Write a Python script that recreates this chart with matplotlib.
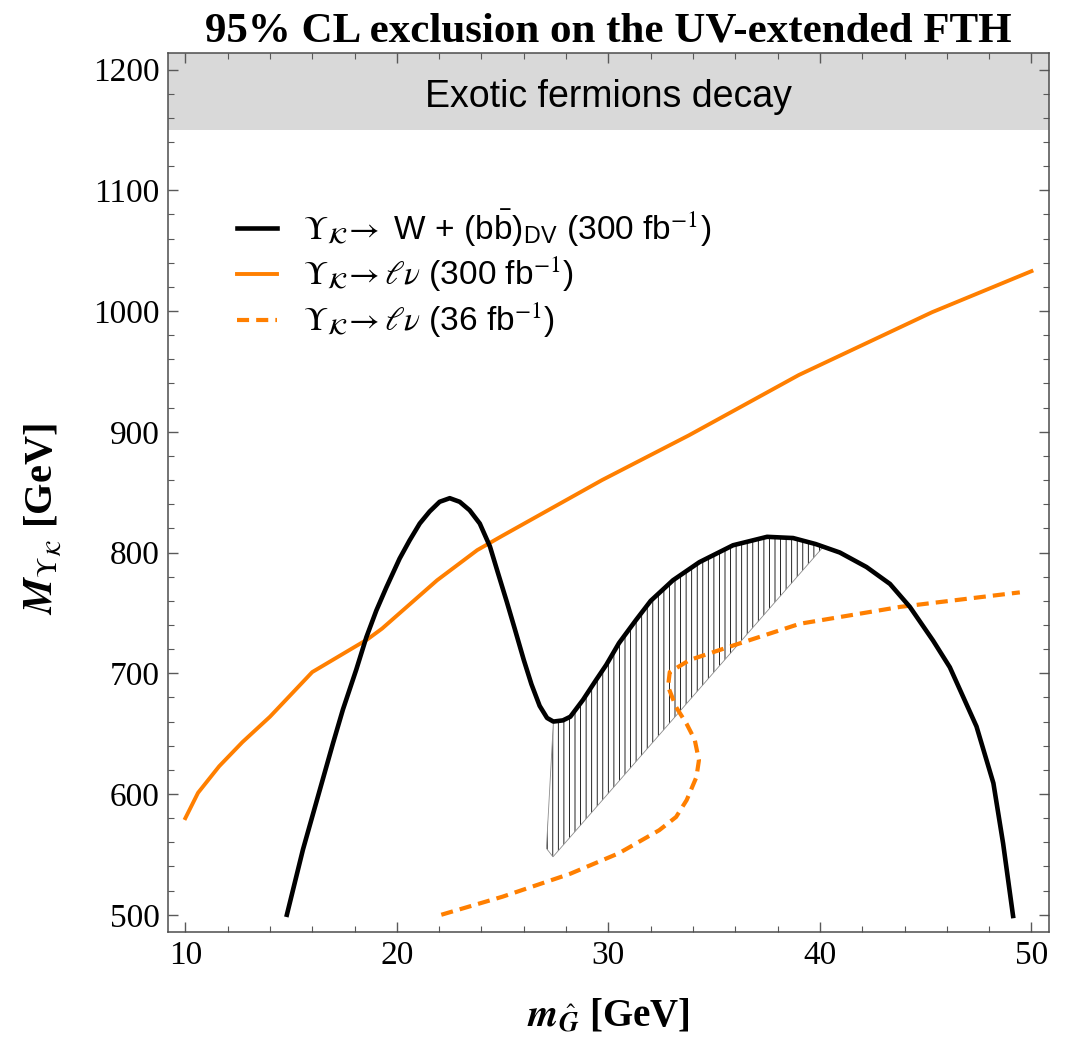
import matplotlib
matplotlib.use("Agg")
import matplotlib.pyplot as plt
from matplotlib.ticker import MultipleLocator

plt.rcParams['mathtext.fontset'] = 'stix'
plt.rcParams['hatch.linewidth'] = 0.6

# black: Upsilon_K -> W + (bb)_DV, 300 fb^-1
bb_x = [14.8, 15.56, 16.35, 16.98, 17.45, 18.08, 18.56, 19.03, 19.5, 20.13, 20.6, 21.08,
        21.55, 22.02, 22.5, 22.97, 23.44, 23.92, 24.4, 24.78, 25.2, 25.57, 26.0, 26.36,
        26.75, 27.1, 27.4, 27.85, 28.2, 28.8, 29.4, 29.9, 30.5, 31.3, 32.0, 33.05,
        34.3, 35.89, 37.5, 38.73, 39.8, 40.94, 42.2, 43.31, 44.25, 45.35, 46.14, 47.4,
        48.2, 48.66, 49.13]
bb_y = [500, 554, 603, 642, 670, 703, 730, 752, 771, 795, 810, 824,
        834, 842, 845, 842, 835, 824, 805, 783, 759, 737, 711, 691,
        673, 663, 660, 661, 664, 678, 694, 707, 725, 744, 760, 777,
        792, 806, 813, 812, 807, 800, 788, 774, 755, 727, 705, 656,
        609, 559, 499]

# orange solid: Upsilon_K -> l nu, 300 fb^-1
lv300_x = [10.0, 10.6, 11.6, 12.7, 14.0, 16.0, 18.6, 19.3, 21.9, 23.8, 25.0, 29.7,
           33.8, 39.0, 45.3, 50.0]
lv300_y = [580, 601, 623, 643, 664, 701, 728, 737, 777, 802, 814, 860,
           897, 947, 999, 1033]

# orange dashed: Upsilon_K -> l nu, 36 fb^-1
lv36_x = [22.1, 25.0, 28.2, 30.5, 31.3, 32.4, 33.2, 33.7, 34.16, 34.28, 34.08, 33.7,
          33.2, 32.82, 32.9, 33.84, 35.9, 39.05, 43.8, 49.45]
lv36_y = [500, 515, 534, 551, 559, 570, 581, 595, 614, 628, 645, 658,
          672, 689, 701, 711, 723, 741, 755, 767]

# hatched region
hatch_x = [27.4, 27.85, 28.2, 28.8, 29.4, 29.9, 30.5, 31.3, 32.0, 33.05, 34.3, 35.89,
           37.5, 38.73, 39.8, 40.15, 27.38, 27.07]
hatch_y = [660, 661, 664, 678, 694, 707, 725, 744, 760, 777, 792, 806,
           813, 812, 807, 804.6, 548, 555]

band_low = 1150
band_high = 1213.7

orange = '#ff7f00'

fig = plt.figure(figsize=(10.70, 10.47), dpi=100)
ax = fig.add_axes([0.157, 0.1098, 0.8234, 0.8396])

ax.axhspan(band_low, band_high, color='#d9d9d9', lw=0, zorder=0)
ax.text(30, 1177, 'Exotic fermions decay', ha='center', va='center',
        family='Liberation Sans', fontsize=27)

ax.fill(hatch_x, hatch_y, facecolor='none', edgecolor='black', linewidth=0,
        hatch='|||', zorder=1)
ax.fill(hatch_x, hatch_y, facecolor='none', edgecolor='0.55', linewidth=0.6, zorder=1)

ax.plot(bb_x, bb_y, color='black', lw=3.3, zorder=3,
        label=r'$\Upsilon_{\mathcal{K}}\!\rightarrow$ W + (b$\bar{\mathregular{b}}$)$_{\mathregular{DV}}$ (300 fb$^{-1}$)')
ax.plot(lv300_x, lv300_y, color=orange, lw=2.8, zorder=2,
        label=r'$\Upsilon_{\mathcal{K}}\!\rightarrow \ell\nu$ (300 fb$^{-1}$)')
ax.plot(lv36_x, lv36_y, color=orange, lw=3, ls=(0, (2.9, 1.7)), zorder=2,
        label=r'$\Upsilon_{\mathcal{K}}\!\rightarrow \ell\nu$ (36 fb$^{-1}$)')

ax.set_xlim(9.18, 50.83)
ax.set_ylim(485.7, 1213.7)
ax.xaxis.set_major_locator(MultipleLocator(10))
ax.xaxis.set_minor_locator(MultipleLocator(2))
ax.yaxis.set_major_locator(MultipleLocator(100))
ax.yaxis.set_minor_locator(MultipleLocator(20))
ax.tick_params(which='both', direction='in', top=True, right=True, color='0.35')
ax.tick_params(which='major', length=7, width=1, pad=6)
ax.tick_params(which='minor', length=4, width=0.8)
for lab in ax.get_xticklabels() + ax.get_yticklabels():
    lab.set_family('Liberation Serif')
    lab.set_fontsize(24)
for sp in ax.spines.values():
    sp.set_color('0.3')
    sp.set_linewidth(1.1)

ax.set_title('95% CL exclusion on the UV-extended FTH', family='Liberation Serif',
             fontweight='bold', fontsize=31, pad=8)
ax.set_xlabel(r'$\boldsymbol{m}_{\hat{\boldsymbol{G}}}$ [GeV]', family='Liberation Serif',
              fontweight='bold', fontsize=28, labelpad=20)
ax.set_ylabel(r'$\boldsymbol{M}_{\Upsilon_{\mathcal{K}}}$ [GeV]', family='Liberation Serif',
              fontweight='bold', fontsize=29)
ax.yaxis.set_label_coords(-0.118, 0.47)

leg = ax.legend(loc='upper left', bbox_to_anchor=(0.078, 0.824), frameon=False,
                prop={'family': 'Liberation Sans', 'size': 24}, handlelength=1.2,
                handletextpad=0.8, labelspacing=0.2, borderpad=0, borderaxespad=0)

fig.savefig('out.png', dpi=100)
